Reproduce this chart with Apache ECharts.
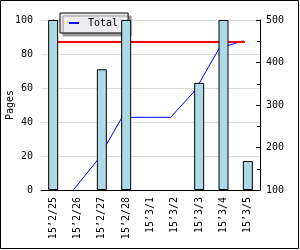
<!DOCTYPE html>
<html><head><meta charset="utf-8">
<script src="https://cdn.jsdelivr.net/npm/echarts@6/dist/echarts.min.js"></script>
<style>html,body{margin:0;padding:0;background:#fff}#c{width:300px;height:250px}</style>
</head><body><div id="c"></div>
<script>
const categories = ["15’2/25","15’2/26","15’2/27","15’2/28","15’3/1","15’3/2","15’3/3","15’3/4","15’3/5"];
const pages = [100, 0, 71, 100, 0, 0, 63, 100, 17];
const totalX = [0.83, 1.83, 2.83, 3.83, 4.83, 5.83, 6.83, 7.83];
const totalY = [100, 171, 271, 271, 271, 334, 434, 451];
const targetX = [0, 7.88];
const targetY = [448, 448];

const font = 'DejaVu Sans Mono';
const chart = echarts.init(document.getElementById('c'), null, {renderer:'canvas'});
chart.setOption({
  animation:false,
  backgroundColor:'#fff',
  textStyle:{fontFamily:font},
  graphic:[{type:'rect', shape:{x:0.5,y:0.5,width:298,height:248}, style:{fill:'none',stroke:'#000',lineWidth:1}, silent:true, z:-10}],
  grid:{left:41, right:40, top:20, bottom:60, containLabel:false, outerBoundsMode:'none'},
  legend:{
    data:['Total'], left:60, top:13,
    backgroundColor:'#ecebf0', borderColor:'#000', borderWidth:1,
    shadowColor:'#999', shadowOffsetX:3, shadowOffsetY:3, shadowBlur:0,
    padding:[5,10,5,9], itemWidth:10, itemHeight:2, itemGap:5,
    icon:'rect',
    textStyle:{fontFamily:font, fontSize:10, color:'#000', padding:[0,0,0,4]}
  },
  xAxis:[
    {type:'category', data:categories, boundaryGap:true,
     axisLine:{lineStyle:{color:'#000'}},
     axisTick:{inside:true, length:5, lineStyle:{color:'#000'}},
     axisLabel:{rotate:90, margin:7, fontFamily:font, fontSize:10, color:'#000', interval:0},
     splitLine:{show:false}},
    {type:'value', min:-0.5, max:8.5, show:false}
  ],
  yAxis:[
    {type:'value', min:0, max:100, interval:20, name:'Pages', nameLocation:'middle', nameGap:26, nameRotate:90,
     nameMoveOverlap:false,
     nameTextStyle:{fontFamily:font, fontSize:10, color:'#000'},
     axisLine:{show:true, lineStyle:{color:'#000'}},
     axisTick:{show:true, inside:true, length:4, lineStyle:{color:'#000'}},
     minorTick:{show:true, splitNumber:2, length:3, lineStyle:{color:'#000'}},
     axisLabel:{margin:8, fontFamily:font, fontSize:10, color:'#000'},
     splitLine:{show:true, lineStyle:{color:'#dcdcdc', width:1}}},
    {type:'value', min:100, max:500, interval:100, position:'right',
     axisLine:{show:true, lineStyle:{color:'#000'}},
     axisTick:{show:true, inside:true, length:4, lineStyle:{color:'#000'}},
     minorTick:{show:true, splitNumber:2, length:3, lineStyle:{color:'#000'}},
     axisLabel:{margin:6, fontFamily:font, fontSize:10, color:'#000'},
     splitLine:{show:false}}
  ],
  series:[
    {name:'Total', type:'line', xAxisIndex:1, yAxisIndex:1, z:2,
     data: totalX.map((x,i)=>[x,totalY[i]]), showSymbol:false, symbol:'none',
     lineStyle:{color:'#0000ff', width:1}, itemStyle:{color:'#0000ff'}},
    {name:'Target', type:'line', xAxisIndex:1, yAxisIndex:1, z:3,
     data: targetX.map((x,i)=>[x,targetY[i]]), showSymbol:false, symbol:'none',
     lineStyle:{color:'#ff0000', width:2}},
    {name:'Pages', type:'bar', xAxisIndex:0, yAxisIndex:0, z:4, barWidth:10,
     data: pages.map(v => v === 0 ? '-' : v),
     itemStyle:{color:'#add8e6', borderColor:'#000', borderWidth:1}}
  ]
});
</script></body></html>
